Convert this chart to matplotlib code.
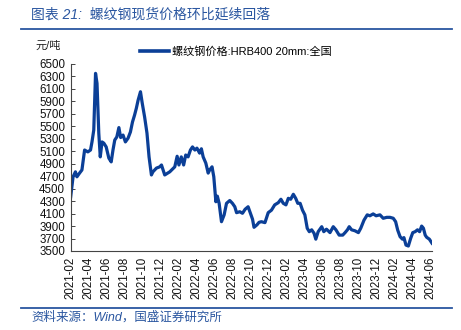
import matplotlib
matplotlib.use("Agg")
import matplotlib.pyplot as plt
import matplotlib.dates as mdates
import pandas as pd
from matplotlib.lines import Line2D

plt.rcParams['font.family'] = ['Liberation Sans', 'Noto Sans CJK SC', 'DejaVu Sans']

dates = [
    "2021-02-01", "2021-02-09", "2021-02-17", "2021-02-22", "2021-03-03", "2021-03-11",
    "2021-03-20", "2021-03-31", "2021-04-09", "2021-04-14", "2021-04-20", "2021-04-26",
    "2021-05-01", "2021-05-07", "2021-05-12", "2021-05-18", "2021-05-24", "2021-06-01",
    "2021-06-10", "2021-06-18", "2021-06-24", "2021-06-30", "2021-07-07", "2021-07-14",
    "2021-07-20", "2021-07-28", "2021-08-05", "2021-08-14", "2021-08-22", "2021-08-29",
    "2021-09-05", "2021-09-11", "2021-09-17", "2021-09-25", "2021-10-01", "2021-10-09",
    "2021-10-17", "2021-10-24", "2021-11-01", "2021-11-06", "2021-11-18", "2021-11-29",
    "2021-12-05", "2021-12-16", "2022-01-02", "2022-01-19", "2022-01-27", "2022-02-02",
    "2022-02-10", "2022-02-18", "2022-02-25", "2022-03-05", "2022-03-13", "2022-03-20",
    "2022-03-28", "2022-04-04", "2022-04-13", "2022-04-19", "2022-04-25", "2022-05-04",
    "2022-05-12", "2022-05-17", "2022-05-25", "2022-05-31", "2022-06-07", "2022-06-12",
    "2022-06-18", "2022-06-26", "2022-07-05", "2022-07-13", "2022-07-24", "2022-08-02",
    "2022-08-10", "2022-08-16", "2022-08-27", "2022-09-05", "2022-09-14", "2022-09-24",
    "2022-10-02", "2022-10-09", "2022-10-14", "2022-10-24", "2022-10-31", "2022-11-08",
    "2022-11-20", "2022-12-01", "2022-12-12", "2022-12-23", "2023-01-04", "2023-01-13",
    "2023-01-21", "2023-01-30", "2023-02-07", "2023-02-15", "2023-02-24", "2023-03-04",
    "2023-03-11", "2023-03-19", "2023-03-27", "2023-04-04", "2023-04-12", "2023-04-19",
    "2023-04-27", "2023-05-05", "2023-05-11", "2023-05-19", "2023-05-31", "2023-06-07",
    "2023-06-16", "2023-06-28", "2023-07-09", "2023-07-18", "2023-07-29", "2023-08-10",
    "2023-08-18", "2023-08-26", "2023-09-01", "2023-09-09", "2023-09-20", "2023-10-02",
    "2023-10-10", "2023-10-21", "2023-11-01", "2023-11-10", "2023-11-21", "2023-12-01",
    "2023-12-14", "2023-12-25", "2024-01-06", "2024-01-17", "2024-01-28", "2024-02-05",
    "2024-02-12", "2024-02-20", "2024-02-28", "2024-03-04", "2024-03-11", "2024-03-19",
    "2024-03-27", "2024-04-03", "2024-04-11", "2024-04-19", "2024-04-26", "2024-05-03",
    "2024-05-09", "2024-05-15", "2024-05-20", "2024-05-29", "2024-06-07",
]
prices = [
    4370, 4690, 4770, 4690, 4750, 4800,
    5120, 5090, 5120, 5250, 5440, 6350,
    6190, 5390, 5010, 5250, 5230, 5170,
    4990, 4930, 5120, 5280, 5330, 5480,
    5320, 5360, 5250, 5310, 5410, 5570,
    5680, 5790, 5920, 6055, 5870, 5650,
    5390, 5010, 4720, 4770, 4830, 4850,
    4880, 4720, 4770, 4850, 5020, 4880,
    5010, 4880, 5040, 5010, 5120, 5170,
    5120, 5150, 5070, 5140, 5010, 4910,
    4750, 4800, 4850, 4690, 4290, 4380,
    4265, 3970, 4080, 4265, 4310, 4265,
    4210, 4115, 4130, 4105, 4170, 4210,
    4105, 4010, 3880, 3920, 3960, 3970,
    3955, 4115, 4155, 4240, 4275, 4330,
    4265, 4240, 4345, 4330, 4410, 4345,
    4265, 4265, 4155, 4080, 3865, 3810,
    3840, 3785, 3690, 3810, 3890, 3810,
    3850, 3795, 3890, 3840, 3755, 3755,
    3795, 3840, 3890, 3840, 3825, 3795,
    3865, 3995, 4080, 4065, 4095, 4065,
    4080, 4025, 4040, 4040, 4025, 3970,
    3835, 3730, 3690, 3715, 3595, 3580,
    3705, 3795, 3810, 3840, 3810, 3900,
    3865, 3755, 3720, 3690, 3625,
]
series_label = "螺纹钢价格:HRB400 20mm:全国"
unit_label = "元/吨"
title_text = "图表 21:  螺纹钢现货价格环比延续回落"
source_text = "资料来源：Wind，国盛证券研究所"
tick_months = pd.date_range("2021-02-01", "2024-06-01", freq="2MS")
y_ticks = list(range(3500, 6501, 200))

dt = pd.to_datetime(dates)
line_color = "#0B3F97"
accent = "#2A56A0"
mixed = ["Liberation Sans", "Noto Sans CJK SC"]

fig = plt.figure(figsize=(4.61, 3.30), dpi=100)
ax = fig.add_axes([70.7 / 461, 1 - 251 / 330, (432 - 70.7) / 461, (251 - 64) / 330])
ax.plot(dt, prices, color=line_color, lw=2.3, solid_joinstyle="round")
ax.set_xlim(dt[0], dt[-1])
ax.set_ylim(3500, 6500)
ax.set_yticks(y_ticks)
ax.set_xticks(tick_months)
ax.xaxis.set_major_formatter(mdates.DateFormatter("%Y-%m"))
for s in ["top", "right"]:
    ax.spines[s].set_visible(False)
for s in ["left", "bottom"]:
    ax.spines[s].set_color("#444444")
    ax.spines[s].set_linewidth(0.8)
ax.tick_params(axis="y", direction="in", length=3, width=0.7, color="#444444",
               labelsize=8.3, pad=4)
ax.tick_params(axis="x", length=0, labelsize=8.3, pad=4, labelrotation=90)
for lbl in ax.get_xticklabels() + ax.get_yticklabels():
    lbl.set_color("#111111")

# legend
handle = Line2D([0], [0], color=line_color, lw=2.6)
fig.legend([handle], [series_label], loc="center left",
           bbox_to_anchor=(136 / 461, 1 - 52 / 330), frameon=False,
           handlelength=2.6, handletextpad=0.2, borderaxespad=0,
           prop={"family": mixed, "size": 8})

fig.text(35 / 461, 1 - 46 / 330, unit_label, fontsize=8, va="center", ha="left",
         color="#222222", family=mixed)

fig.text(31 / 461, 1 - 15 / 330, title_text, fontsize=10, va="center", ha="left",
         color=accent, style="italic", family=mixed)
fig.add_artist(Line2D([21 / 461, 452 / 461], [1 - 29 / 330, 1 - 29 / 330],
                      color=accent, lw=1.3, transform=fig.transFigure))
fig.add_artist(Line2D([21 / 461, 452 / 461], [1 - 307.5 / 330, 1 - 307.5 / 330],
                      color=accent, lw=1.3, transform=fig.transFigure))
fig.text(31 / 461, 1 - 317 / 330, source_text, fontsize=9, va="center", ha="left",
         color=accent, style="italic", family=mixed)

fig.savefig("out.png", dpi=100)
